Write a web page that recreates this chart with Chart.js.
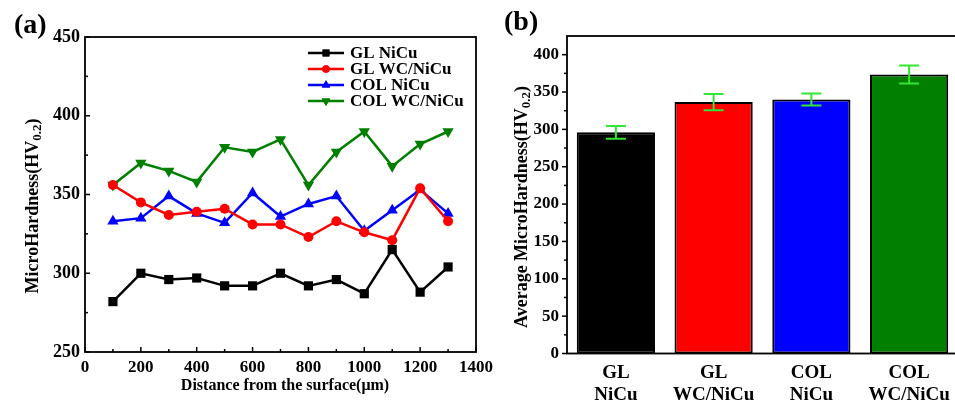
<!DOCTYPE html>
<html>
<head>
<meta charset="utf-8">
<script src="https://cdn.jsdelivr.net/npm/chart.js@4.4.0/dist/chart.umd.min.js"></script>
<style>
  html, body { margin: 0; padding: 0; background: #fff; overflow: hidden; width: 955px; height: 405px; }
  canvas { position: absolute; top: 0; }
  .panel { position: absolute; font: bold 28px "Liberation Serif", serif; color: #000; line-height: 1; }
</style>
</head>
<body>
<canvas id="lineChart" width="500" height="405" style="left:0"></canvas>
<canvas id="barChart" width="460" height="405" style="left:500px"></canvas>
<div class="panel" style="left:14px;top:10px">(a)</div>
<div class="panel" style="left:504px;top:7px">(b)</div>
<script>
// hardness.js — microhardness profile (a) and averages (b)

const FONT = '"Liberation Serif", serif';

// (a) profile across the depth
const distances = [100, 200, 300, 400, 500, 600, 700, 800, 900, 1000, 1100, 1200, 1300];
const glNiCu    = [282, 300, 296, 297, 292, 292, 300, 292, 296, 287, 315, 288, 304];
const glWcNiCu  = [356, 345, 337, 339, 341, 331, 331, 323, 333, 326, 321, 354, 333];
const colNiCu   = [333, 335, 349, 338, 332, 351, 336, 344, 349, 327, 340, 353, 338];
const colWcNiCu = [356, 370, 365, 358, 380, 377, 385, 356, 377, 390, 368, 382, 390];
const seriesNames = ['GL NiCu', 'GL WC/NiCu', 'COL NiCu', 'COL WC/NiCu'];

const xTicksA = [0, 200, 400, 600, 800, 1000, 1200, 1400];
const xMinorA = [100, 300, 500, 700, 900, 1100, 1300];
const yTicksA = [250, 300, 350, 400, 450];
const yMinorA = [275, 325, 375, 425];

// (b) averages
const samples = [['GL', 'NiCu'], ['GL', 'WC/NiCu'], ['COL', 'NiCu'], ['COL', 'WC/NiCu']];
const avgHardness = [296, 336.5, 340, 373.5];
const hardnessErr = [8.5, 11, 8, 12];
const yTicksB = [0, 50, 100, 150, 200, 250, 300, 350, 400];
const yMinorB = [25, 75, 125, 175, 225, 275, 325, 375];

const lineColors = ['#000000', '#ff0000', '#0000ff', '#007f00'];
const barColors = ['#000000', '#ff0000', '#0000ff', '#007f00'];
const markers = [
  { style: 'rect', radius: 6.5, rotation: 0 },
  { style: 'circle', radius: 5, rotation: 0 },
  { style: 'triangle', radius: 6.5, rotation: 0 },
  { style: 'triangle', radius: 6.5, rotation: 180 }
];

function setTicks(values) {
  return scale => { scale.ticks = values.map(v => ({ value: v })); };
}

function drawMarker(ctx, m, x, y, color) {
  ctx.save();
  ctx.fillStyle = color;
  Chart.helpers.drawPoint(ctx, { pointStyle: m.style, radius: m.radius, rotation: m.rotation, borderWidth: 0 }, x, y);
  ctx.fill();
  ctx.restore();
}

// rotated axis title with a subscript part
function drawYTitle(ctx, cx, cy, main, sub, tail) {
  const big = 'bold 18px ' + FONT, small = 'bold 13px ' + FONT;
  ctx.save();
  ctx.translate(cx, cy);
  ctx.rotate(-Math.PI / 2);
  ctx.fillStyle = '#000';
  ctx.textBaseline = 'middle';
  ctx.textAlign = 'left';
  ctx.font = big; const w1 = ctx.measureText(main).width, w3 = ctx.measureText(tail).width;
  ctx.font = small; const w2 = ctx.measureText(sub).width;
  let x = -(w1 + w2 + w3) / 2;
  ctx.font = big; ctx.fillText(main, x, 0); x += w1;
  ctx.font = small; ctx.fillText(sub, x, 5); x += w2;
  ctx.font = big; ctx.fillText(tail, x, 0);
  ctx.restore();
}

function drawTicks(ctx, scale, values, len, horizontal, base) {
  values.forEach(v => {
    const p = scale.getPixelForValue(v);
    ctx.beginPath();
    if (horizontal) { ctx.moveTo(p, base); ctx.lineTo(p, base + len); }
    else { ctx.moveTo(base, p); ctx.lineTo(base + len, p); }
    ctx.stroke();
  });
}

const frameA = {
  id: 'frameA',
  afterDraw(chart) {
    const { ctx, chartArea: a, scales: { x, y } } = chart;
    ctx.save();
    ctx.strokeStyle = '#000';
    ctx.lineWidth = 1.8;
    ctx.strokeRect(a.left, a.top, a.right - a.left, a.bottom - a.top);
    ctx.lineWidth = 1.5;
    drawTicks(ctx, x, xTicksA, -5, true, a.bottom);
    drawTicks(ctx, x, xMinorA, -3, true, a.bottom);
    drawTicks(ctx, y, yTicksA, 5, false, a.left);
    drawTicks(ctx, y, yMinorA, 3, false, a.left);

    // legend
    ctx.font = 'bold 17px ' + FONT;
    ctx.textBaseline = 'middle';
    ctx.fillStyle = '#000';
    seriesNames.forEach((name, i) => {
      const ly = 53 + i * 16;
      ctx.strokeStyle = lineColors[i];
      ctx.lineWidth = 2.5;
      ctx.beginPath(); ctx.moveTo(308, ly); ctx.lineTo(344, ly); ctx.stroke();
      drawMarker(ctx, { ...markers[i], radius: markers[i].radius * 0.75 }, 326, ly, lineColors[i]);
      ctx.fillStyle = '#000';
      ctx.fillText(name, 350, ly + 1);
    });

    drawYTitle(ctx, 33, 206, 'MicroHardness(HV', '0.2', ')');
    ctx.font = 'bold 16px ' + FONT;
    ctx.textAlign = 'center';
    ctx.fillText('Distance from the surface(\u03bcm)', 285, 386);
    ctx.restore();
  }
};

const frameB = {
  id: 'frameB',
  afterDatasetsDraw(chart) {
    const { ctx, scales: { y } } = chart;
    const meta = chart.getDatasetMeta(0);
    ctx.save();
    ctx.strokeStyle = '#33e633';
    ctx.lineWidth = 2;
    meta.data.forEach((bar, i) => {
      const top = y.getPixelForValue(avgHardness[i] + hardnessErr[i]);
      const bot = y.getPixelForValue(avgHardness[i] - hardnessErr[i]);
      ctx.beginPath();
      ctx.moveTo(bar.x, top); ctx.lineTo(bar.x, bot);
      ctx.moveTo(bar.x - 10, top); ctx.lineTo(bar.x + 10, top);
      ctx.moveTo(bar.x - 10, bot); ctx.lineTo(bar.x + 10, bot);
      ctx.stroke();
    });
    ctx.restore();
  },
  afterDraw(chart) {
    const { ctx, chartArea: a, scales: { y } } = chart;
    ctx.save();
    ctx.strokeStyle = '#000';
    ctx.lineWidth = 1.8;
    ctx.strokeRect(a.left, a.top, a.right - a.left, a.bottom - a.top);
    ctx.lineWidth = 1.5;
    drawTicks(ctx, y, yTicksB, -5, false, a.left);
    drawTicks(ctx, y, yMinorB, -3, false, a.left);
    drawYTitle(ctx, 22, 207, 'Average MicroHardness(HV', '0.2', ')');
    ctx.restore();
  }
};

const tickFont = { family: FONT, size: 17, weight: 'bold' };

// (a) line chart
new Chart(document.getElementById('lineChart'), {
  type: 'line',
  data: {
    datasets: [glNiCu, glWcNiCu, colNiCu, colWcNiCu].map((vals, i) => ({
      label: seriesNames[i],
      data: vals.map((v, j) => ({ x: distances[j], y: v })),
      borderColor: lineColors[i],
      backgroundColor: lineColors[i],
      borderWidth: 2.5,
      pointStyle: markers[i].style,
      pointRadius: markers[i].radius,
      pointRotation: markers[i].rotation,
      pointBorderWidth: 0,
      tension: 0
    }))
  },
  options: {
    responsive: false,
    animation: false,
    layout: { padding: { left: 0, right: 24, top: 37, bottom: 0 } },
    plugins: { legend: { display: false }, tooltip: { enabled: false } },
    scales: {
      x: {
        type: 'linear', min: 0, max: 1400,
        afterBuildTicks: setTicks(xTicksA),
        afterFit: s => { s.height = 53; },
        grid: { display: false, drawTicks: false },
        border: { display: false },
        ticks: { padding: 5, font: tickFont, color: '#000', maxRotation: 0, callback: v => String(v) }
      },
      y: {
        min: 250, max: 450,
        afterBuildTicks: setTicks(yTicksA),
        afterFit: s => { s.width = 85; },
        grid: { display: false, drawTicks: false },
        border: { display: false },
        ticks: { padding: 5, font: { ...tickFont, size: 18 }, color: '#000' }
      }
    }
  },
  plugins: [frameA]
});

// (b) bar chart
new Chart(document.getElementById('barChart'), {
  type: 'bar',
  data: {
    labels: samples,
    datasets: [{
      data: avgHardness,
      backgroundColor: barColors,
      borderColor: '#000',
      borderWidth: 2,
      borderSkipped: false,
      barPercentage: 0.8,
      categoryPercentage: 1
    }]
  },
  options: {
    responsive: false,
    animation: false,
    layout: { padding: { left: 0, right: 2, top: 36, bottom: 0 } },
    plugins: { legend: { display: false }, tooltip: { enabled: false } },
    scales: {
      x: {
        afterFit: s => { s.height = 51.5; },
        grid: { display: false, drawTicks: false },
        border: { display: false },
        ticks: { padding: 9, font: { ...tickFont, size: 19, lineHeight: 1.15 }, color: '#000', maxRotation: 0 }
      },
      y: {
        min: 0, max: 425,
        afterBuildTicks: setTicks(yTicksB),
        afterFit: s => { s.width = 67; },
        grid: { display: false, drawTicks: false },
        border: { display: false },
        ticks: { padding: 8, font: tickFont, color: '#000' }
      }
    }
  },
  plugins: [frameB]
});
</script>
</body>
</html>
